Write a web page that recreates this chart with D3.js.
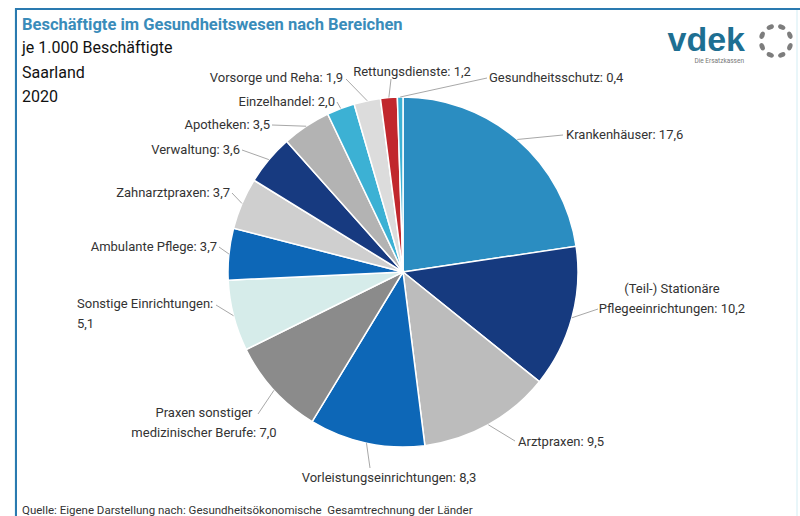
<!DOCTYPE html>
<html>
<head>
<meta charset="utf-8">
<script src="https://cdn.jsdelivr.net/npm/d3@7"></script>
<style>
  body { margin: 0; background: #fff; }
  svg { display: block; }
</style>
</head>
<body>
<script>
const categories = [
  "Krankenhäuser", "(Teil-) Stationäre Pflegeeinrichtungen", "Arztpraxen",
  "Vorleistungseinrichtungen", "Praxen sonstiger medizinischer Berufe",
  "Sonstige Einrichtungen", "Ambulante Pflege", "Zahnarztpraxen", "Verwaltung",
  "Apotheken", "Einzelhandel", "Vorsorge und Reha", "Rettungsdienste", "Gesundheitsschutz"
];
const values = [17.6, 10.2, 9.5, 8.3, 7.0, 5.1, 3.7, 3.7, 3.6, 3.5, 2.0, 1.9, 1.2, 0.4];
const titleLines = ["je 1.000 Beschäftigte", "Saarland", "2020"];

const sliceColors = [
  "#2b8dc1", "#163a7f", "#bcbcbc", "#0d67b7", "#8b8b8b", "#d6ecea", "#0d67b7",
  "#cfcfcf", "#173a80", "#b3b3b3", "#3cb1d4", "#dcdcdc", "#c1272d", "#3cb1d4"
];

// label placement: text anchor point (x,y), anchor, where to wrap, leader end (lx,ly)
const labelLayout = [
  {x: 566, y: 139, anchor: "start", lx: 563, ly: 135},
  {x: 672, y: 293, anchor: "middle", wrap: "Stationäre", lx: 598, ly: 309},
  {x: 518, y: 446, anchor: "start", lx: 515, ly: 441},
  {x: 389, y: 482, anchor: "middle", lx: 370, ly: 468},
  {x: 204, y: 417, anchor: "middle", wrap: "sonstiger", lx: 258, ly: 414},
  {x: 77, y: 308, anchor: "start", wrap: "Einrichtungen:", lx: 216, ly: 305},
  {x: 217, y: 251, anchor: "end", lx: 219, ly: 247},
  {x: 230, y: 197, anchor: "end", lx: 232, ly: 193},
  {x: 240, y: 154, anchor: "end", lx: 242, ly: 150},
  {x: 270, y: 129, anchor: "end", lx: 272, ly: 125},
  {x: 335, y: 106, anchor: "end", lx: 337, ly: 102},
  {x: 343, y: 82, anchor: "end", lx: 346, ly: 79},
  {x: 412, y: 76, anchor: "middle", lx: 391, ly: 79},
  {x: 489, y: 82, anchor: "start", lx: 487, ly: 78}
];

const width = 800, height = 516;
const cx = 403, cy = 272, r = 175;
const labelFont = "Roboto, 'DejaVu Sans Condensed', sans-serif";
const fmt = v => v.toFixed(1).replace(".", ",");

const svg = d3.select("body").append("svg")
  .attr("width", width)
  .attr("height", height);

// frame
svg.append("rect").attr("x", 15).attr("y", 9).attr("width", 782).attr("height", 520)
  .attr("fill", "#fff").attr("stroke", "#e2f3f8").attr("stroke-width", 1.5);
svg.append("line").attr("x1", 15).attr("x2", 800).attr("y1", 9).attr("y2", 9)
  .attr("stroke", "#2a7ab0").attr("stroke-width", 2);
svg.append("line").attr("x1", 16).attr("x2", 16).attr("y1", 8).attr("y2", height)
  .attr("stroke", "#2a7ab0").attr("stroke-width", 2);

// title
svg.append("text")
  .attr("x", 22).attr("y", 30)
  .text("Beschäftigte im Gesundheitswesen nach Bereichen")
  .style("font-family", labelFont)
  .style("font-size", "16.5px")
  .style("font-weight", "bold")
  .style("fill", "#3a8cba");

svg.selectAll(".sub")
  .data(titleLines)
  .join("text")
  .attr("class", "sub")
  .attr("x", 22)
  .attr("y", (d, i) => 53 + i * 24.5)
  .text(d => d)
  .style("font-family", labelFont)
  .style("font-size", "16px")
  .style("fill", "#111");

// logo
const logo = svg.append("g");
logo.append("text")
  .attr("x", 745).attr("y", 51)
  .attr("text-anchor", "end")
  .text("vdek")
  .style("font-family", "'Liberation Sans', Arial, sans-serif")
  .style("font-size", "34px")
  .style("font-weight", "bold")
  .style("fill", "#1e6f92");
logo.append("text")
  .attr("x", 744).attr("y", 63)
  .attr("text-anchor", "end")
  .text("Die Ersatzkassen")
  .style("font-family", labelFont)
  .style("font-size", "6.5px")
  .style("fill", "#777");
d3.range(8).forEach(i => {
  const a = i * 45 + 22.5;
  logo.append("ellipse")
    .attr("rx", 3.8).attr("ry", 2.4)
    .attr("transform", `translate(776,41) rotate(${a}) translate(0,-15) `)
    .attr("fill", "#7d7d7d");
});

// pie
const pie = d3.pie().sort(null).value(d => d.value);
const arcs = pie(categories.map((c, i) => ({name: c, value: values[i]})));
const arc = d3.arc().innerRadius(0).outerRadius(r);
const edge = d3.arc().innerRadius(r).outerRadius(r);

const g = svg.append("g").attr("transform", `translate(${cx},${cy})`);
g.selectAll("path.slice")
  .data(arcs)
  .join("path")
  .attr("class", "slice")
  .attr("d", arc)
  .attr("fill", (d, i) => sliceColors[i])
  .attr("stroke", "#fff")
  .attr("stroke-width", 1.5);

// leader lines
g.selectAll("polyline")
  .data(arcs)
  .join("polyline")
  .attr("points", (d, i) => {
    const p = edge.centroid(d);
    const L = labelLayout[i];
    return [p, [L.lx - cx, L.ly - cy]].map(q => q.join(",")).join(" ");
  })
  .attr("fill", "none")
  .attr("stroke", "#a8a8a8")
  .attr("stroke-width", 1);

// labels
arcs.forEach((d, i) => {
  const L = labelLayout[i];
  const full = `${d.data.name}: ${fmt(d.data.value)}`;
  let lines = [full];
  if (L.wrap) {
    const k = full.indexOf(L.wrap) + L.wrap.length;
    lines = [full.slice(0, k), full.slice(k).trim()];
  }
  const t = svg.append("text")
    .attr("x", L.x).attr("y", L.y)
    .attr("text-anchor", L.anchor)
    .style("font-family", labelFont)
    .style("font-size", "13px")
    .style("fill", "#333");
  lines.forEach((s, j) => {
    t.append("tspan").attr("x", L.x).attr("dy", j ? 20 : 0).text(s);
  });
});

// source
svg.append("text")
  .attr("x", 22).attr("y", 514)
  .text("Quelle: Eigene Darstellung nach: Gesundheitsökonomische  Gesamtrechnung der Länder")
  .style("font-family", labelFont)
  .style("font-size", "11.5px")
  .style("white-space", "pre")
  .style("fill", "#333");
</script>
</body>
</html>
